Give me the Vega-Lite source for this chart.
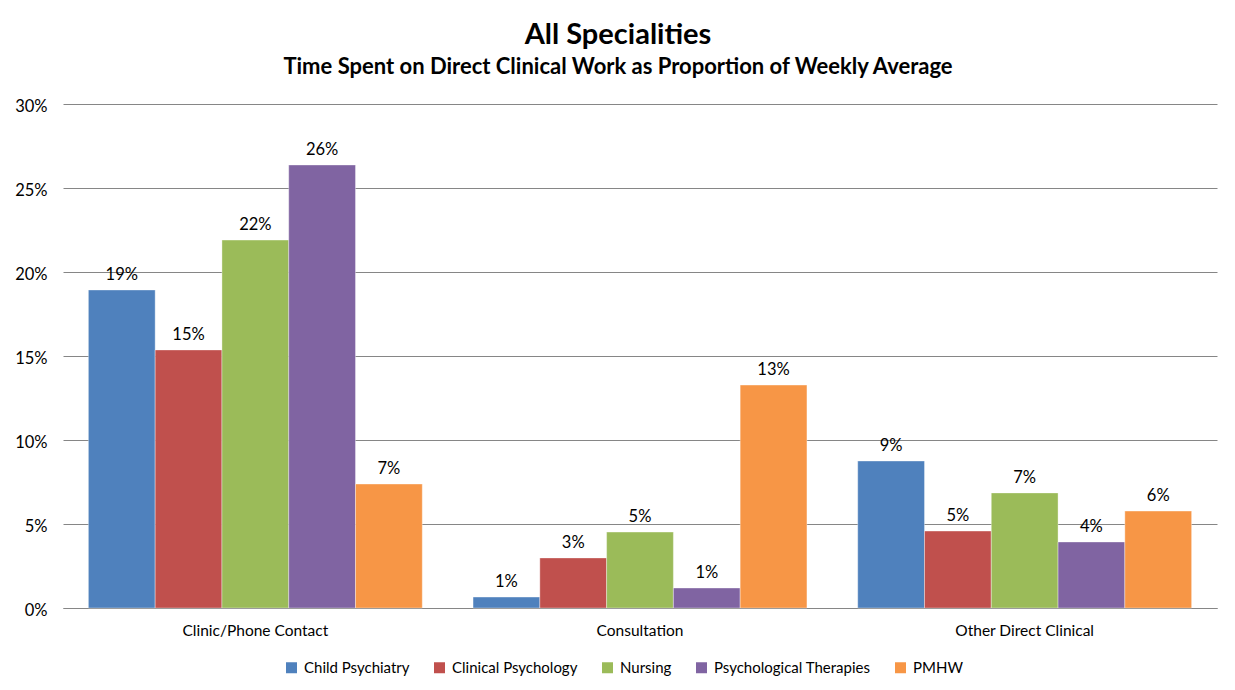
{
  "$schema": "https://vega.github.io/schema/vega-lite/v6.json",
  "width": 1154,
  "height": 504,
  "autosize": "none",
  "padding": {"left": 63, "top": 104, "right": 18, "bottom": 82},
  "background": "#ffffff",
  "title": {
    "text": "All Specialities",
    "subtitle": "Time Spent on Direct Clinical Work as Proportion of Weekly Average",
    "anchor": "middle",
    "dx": -22,
    "font": "Lato",
    "fontSize": 29,
    "fontWeight": "bold",
    "color": "#000000",
    "subtitleFont": "Lato",
    "subtitleFontSize": 22,
    "subtitleFontWeight": "bold",
    "subtitleColor": "#000000",
    "subtitlePadding": 7,
    "offset": 20
  },
  "data": {
    "values": [
      {"activity": "Clinic/Phone Contact", "specialty": "Child Psychiatry", "share": 0.1893},
      {"activity": "Clinic/Phone Contact", "specialty": "Clinical Psychology", "share": 0.1536},
      {"activity": "Clinic/Phone Contact", "specialty": "Nursing", "share": 0.2190},
      {"activity": "Clinic/Phone Contact", "specialty": "Psychological Therapies", "share": 0.2637},
      {"activity": "Clinic/Phone Contact", "specialty": "PMHW", "share": 0.0738},
      {"activity": "Consultation", "specialty": "Child Psychiatry", "share": 0.0065},
      {"activity": "Consultation", "specialty": "Clinical Psychology", "share": 0.0298},
      {"activity": "Consultation", "specialty": "Nursing", "share": 0.0452},
      {"activity": "Consultation", "specialty": "Psychological Therapies", "share": 0.0119},
      {"activity": "Consultation", "specialty": "PMHW", "share": 0.1327},
      {"activity": "Other Direct Clinical", "specialty": "Child Psychiatry", "share": 0.0875},
      {"activity": "Other Direct Clinical", "specialty": "Clinical Psychology", "share": 0.0458},
      {"activity": "Other Direct Clinical", "specialty": "Nursing", "share": 0.0685},
      {"activity": "Other Direct Clinical", "specialty": "Psychological Therapies", "share": 0.0393},
      {"activity": "Other Direct Clinical", "specialty": "PMHW", "share": 0.0577}
    ]
  },
  "encoding": {
    "x": {
      "field": "activity",
      "type": "nominal",
      "sort": ["Clinic/Phone Contact", "Consultation", "Other Direct Clinical"],
      "scale": {"paddingInner": 0.132, "paddingOuter": 0.066},
      "axis": {
        "title": null,
        "labelAngle": 0,
        "labelFont": "Lato",
        "labelFontSize": 15.5,
        "labelColor": "#000000",
        "labelPadding": 15,
        "ticks": false,
        "domainColor": "#868686",
        "domainWidth": 1
      }
    },
    "xOffset": {
      "field": "specialty",
      "sort": ["Child Psychiatry", "Clinical Psychology", "Nursing", "Psychological Therapies", "PMHW"],
      "scale": {"paddingInner": 0, "paddingOuter": 0}
    },
    "y": {
      "field": "share",
      "type": "quantitative",
      "scale": {"domain": [0, 0.3], "nice": false},
      "axis": {
        "title": null,
        "values": [0, 0.05, 0.1, 0.15, 0.2, 0.25, 0.3],
        "format": ".0%",
        "labelFont": "Lato",
        "labelFontSize": 16.5,
        "labelColor": "#000000",
        "labelPadding": 16,
        "labelOffset": 2,
        "domain": false,
        "ticks": false,
        "grid": true,
        "gridColor": "#868686",
        "gridWidth": 1
      }
    },
    "color": {
      "field": "specialty",
      "type": "nominal",
      "sort": ["Child Psychiatry", "Clinical Psychology", "Nursing", "Psychological Therapies", "PMHW"],
      "scale": {
        "domain": ["Child Psychiatry", "Clinical Psychology", "Nursing", "Psychological Therapies", "PMHW"],
        "range": ["#4f81bd", "#c0504d", "#9bbb59", "#8064a2", "#f79646"]
      },
      "legend": {
        "title": null,
        "orient": "none",
        "direction": "horizontal",
        "legendX": 221,
        "legendY": 556,
        "symbolType": "square",
        "symbolSize": 121,
        "symbolStrokeWidth": 0,
        "symbolOpacity": 1,
        "labelFont": "Lato",
        "labelFontSize": 15,
        "labelLimit": 400,
        "labelColor": "#000000",
        "labelOffset": 5,
        "columnPadding": 22
      }
    }
  },
  "layer": [
    {"mark": {"type": "bar", "stroke": "#ffffff", "strokeWidth": 0.6, "strokeOpacity": 0.6}},
    {
      "mark": {
        "type": "text",
        "font": "Lato",
        "fontSize": 16.5,
        "color": "#000000",
        "baseline": "alphabetic",
        "dy": -10
      },
      "encoding": {
        "text": {"field": "share", "type": "quantitative", "format": ".0%"},
        "color": {"value": "#000000"}
      }
    }
  ],
  "config": {
    "view": {"stroke": null}
  }
}
